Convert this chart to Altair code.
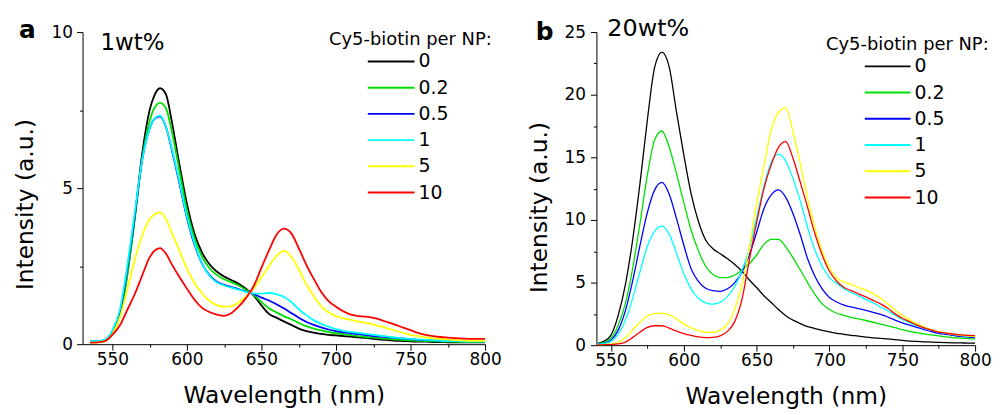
import altair as alt
import pandas as pd

FONT = "DejaVu Sans"

SERIES = ["0", "0.2", "0.5", "1", "5", "10"]
COLORS = ["#000000", "#00e000", "#0000ff", "#00ffff", "#ffff00", "#ff0000"]
TAGS = ["a", "b"]
LOADINGS = ["1wt%", "20wt%"]
LEGEND_TITLE = "Cy5-biotin per NP:"
X_TITLE = "Wavelength (nm)"
Y_TITLE = "Intensity (a.u.)"

# ---------------- panel a : 1wt% ----------------
WL_A = [535, 540, 545, 550, 555, 560, 565, 570, 575, 578, 582, 586,
        590, 595, 600, 605, 610, 615, 620, 625, 630, 635,
        640, 645, 650, 655, 660, 665, 670, 675, 680, 685,
        690, 695, 700, 705, 710, 715, 720, 725, 730, 735,
        740, 745, 750, 755, 760, 765, 770, 775, 780, 785,
        790, 795, 800]
A_0 = [0.08, 0.08, 0.12, 0.35, 0.9, 2.25, 4.05, 6.1, 7.5, 7.95, 8.2, 8.0,
       7.1, 5.75, 4.5, 3.55, 2.95, 2.57, 2.33, 2.17, 2.05, 1.93,
       1.76, 1.55, 1.24, 0.97, 0.85, 0.73, 0.62, 0.5, 0.42, 0.37,
       0.33, 0.3, 0.28, 0.26, 0.24, 0.22, 0.2, 0.17, 0.15, 0.13,
       0.11, 0.1, 0.09, 0.08, 0.08, 0.07, 0.07, 0.06, 0.06, 0.06,
       0.06, 0.06, 0.06]
A_02 = [0.08, 0.08, 0.12, 0.35, 0.9, 2.2, 4.0, 5.95, 7.15, 7.55, 7.73, 7.55,
        6.8, 5.55, 4.3, 3.4, 2.82, 2.44, 2.22, 2.08, 1.98, 1.87,
        1.73, 1.57, 1.35, 1.15, 1.02, 0.9, 0.8, 0.68, 0.58, 0.5,
        0.44, 0.39, 0.35, 0.32, 0.29, 0.26, 0.23, 0.21, 0.19, 0.17,
        0.15, 0.13, 0.12, 0.11, 0.1, 0.09, 0.09, 0.08, 0.08, 0.07,
        0.07, 0.07, 0.07]
A_05 = [0.09, 0.09, 0.13, 0.4, 1.0, 2.4, 4.1, 5.9, 6.9, 7.2, 7.3, 6.95,
        6.2, 5.15, 4.05, 3.2, 2.6, 2.22, 2.0, 1.9, 1.83, 1.76,
        1.68, 1.6, 1.49, 1.4, 1.28, 1.15, 1.0, 0.85, 0.72, 0.62,
        0.54, 0.47, 0.42, 0.38, 0.35, 0.32, 0.29, 0.26, 0.24, 0.22,
        0.2, 0.18, 0.16, 0.14, 0.13, 0.12, 0.11, 0.1, 0.1, 0.09,
        0.09, 0.09, 0.09]
A_1 = [0.1, 0.1, 0.15, 0.45, 1.1, 2.5, 4.2, 5.9, 6.9, 7.2, 7.32, 6.95,
       6.24, 5.2, 4.1, 3.25, 2.6, 2.2, 1.98, 1.88, 1.81, 1.74,
       1.67, 1.62, 1.62, 1.64, 1.6, 1.52, 1.35, 1.12, 0.93, 0.77,
       0.65, 0.56, 0.48, 0.43, 0.39, 0.36, 0.33, 0.3, 0.27, 0.24,
       0.21, 0.19, 0.17, 0.15, 0.14, 0.13, 0.11, 0.1, 0.1, 0.09,
       0.09, 0.09, 0.09]
A_5 = [0.05, 0.06, 0.1, 0.33, 0.85, 1.75, 2.7, 3.48, 4.0, 4.15, 4.22, 4.0,
       3.55, 3.0, 2.42, 1.97, 1.64, 1.39, 1.25, 1.2, 1.22, 1.35,
       1.55, 1.8, 2.15, 2.5, 2.82, 3.0, 2.8, 2.4, 1.93, 1.55,
       1.22, 1.02, 0.9, 0.83, 0.78, 0.72, 0.68, 0.63, 0.57, 0.5,
       0.43, 0.36, 0.3, 0.26, 0.22, 0.19, 0.17, 0.15, 0.13, 0.12,
       0.11, 0.11, 0.11]
A_10 = [0.05, 0.06, 0.1, 0.3, 0.6, 1.1, 1.6, 2.2, 2.78, 2.98, 3.08, 2.9,
        2.55, 2.15, 1.78, 1.43, 1.17, 1.03, 0.95, 0.91, 1.0, 1.22,
        1.5, 1.88, 2.45, 3.0, 3.5, 3.7, 3.55, 3.08, 2.55, 2.1,
        1.68, 1.38, 1.2, 1.05, 0.95, 0.9, 0.88, 0.84, 0.78, 0.7,
        0.62, 0.53, 0.45, 0.36, 0.3, 0.26, 0.23, 0.21, 0.19, 0.18,
        0.17, 0.17, 0.17]

# ---------------- panel b : 20wt% ----------------
WL_B = [541, 545, 550, 555, 560, 565, 570, 575, 580, 585,
        590, 595, 600, 605, 610, 615, 620, 625, 630, 635,
        640, 645, 650, 655, 660, 665, 670, 675, 680, 685,
        690, 695, 700, 705, 710, 715, 720, 725, 730, 735,
        740, 745, 750, 755, 760, 765, 770, 775, 780, 785,
        790, 795, 800]
B_0 = [0.15, 0.3, 0.8, 2.4, 4.9, 8.5, 13.0, 18.0, 22.2, 23.4,
       22.2, 18.6, 15.2, 12.1, 9.9, 8.4, 7.7, 7.3, 6.9, 6.45,
       5.9, 5.2, 4.6, 3.95, 3.4, 2.85, 2.35, 2.0, 1.72, 1.48,
       1.33, 1.18, 1.06, 0.95, 0.87, 0.79, 0.73, 0.65, 0.59, 0.54,
       0.5, 0.44, 0.38, 0.33, 0.3, 0.27, 0.25, 0.23, 0.21, 0.19,
       0.18, 0.17, 0.16]
B_02 = [0.12, 0.2, 0.55, 1.6, 3.4, 6.2, 9.8, 13.6, 16.4, 17.1,
        15.8, 13.7, 11.4, 9.2, 7.55, 6.3, 5.65, 5.4, 5.4, 5.6,
        6.0, 6.5, 7.2, 8.05, 8.45, 8.45, 7.85, 6.97, 6.0, 5.0,
        4.05, 3.3, 2.85, 2.55, 2.38, 2.22, 2.1, 1.97, 1.83, 1.68,
        1.55, 1.4, 1.24, 1.1, 1.0, 0.9, 0.82, 0.74, 0.67, 0.61,
        0.56, 0.52, 0.5]
B_05 = [0.1, 0.15, 0.4, 1.2, 2.8, 5.2, 8.0, 10.6, 12.4, 13.0,
        12.05, 10.1, 8.0, 6.1, 5.1, 4.55, 4.35, 4.3, 4.5, 5.0,
        5.85, 7.2, 9.0, 10.9, 12.0, 12.4, 11.8, 10.5, 8.8, 6.9,
        5.5, 4.5, 3.8, 3.45, 3.2, 3.05, 2.92, 2.78, 2.62, 2.45,
        2.25, 2.0, 1.78, 1.6, 1.42, 1.25, 1.08, 0.95, 0.86, 0.78,
        0.7, 0.65, 0.61]
B_1 = [0.08, 0.12, 0.3, 0.9, 2.0, 3.8, 5.9, 7.9, 9.1, 9.5,
       8.85, 7.35, 5.7, 4.5, 3.75, 3.38, 3.28, 3.42, 3.9, 4.7,
       6.0, 7.7, 10.2, 12.7, 14.6, 15.25, 14.7, 13.3, 11.5, 9.4,
       7.6, 6.3, 5.4, 4.9, 4.5, 4.2, 3.95, 3.65, 3.4, 3.05,
       2.75, 2.4, 2.05, 1.8, 1.55, 1.35, 1.2, 1.05, 0.95, 0.84,
       0.76, 0.72, 0.69]
B_5 = [0.02, 0.04, 0.1, 0.25, 0.62, 1.22, 1.85, 2.35, 2.52, 2.56,
       2.42, 2.1, 1.7, 1.38, 1.17, 1.03, 1.02, 1.2, 1.7, 2.9,
       4.9, 7.8, 11.3, 14.3, 17.2, 18.6, 18.95, 17.0, 14.5, 11.7,
       9.4, 7.5, 6.2, 5.35, 5.05, 4.85, 4.6, 4.4, 4.12, 3.75,
       3.3, 2.78, 2.4, 2.02, 1.72, 1.45, 1.25, 1.08, 0.97, 0.87,
       0.8, 0.74, 0.69]
B_10 = [0.02, 0.03, 0.05, 0.1, 0.25, 0.62, 1.05, 1.42, 1.55, 1.55,
        1.36, 1.12, 0.93, 0.78, 0.66, 0.6, 0.62, 0.74, 1.1, 1.9,
        3.7, 6.8, 9.8, 12.5, 14.4, 15.8, 16.25, 14.9, 13.0, 11.0,
        8.9, 7.2, 5.9, 5.1, 4.6, 4.35, 4.1, 3.85, 3.58, 3.3,
        2.95, 2.5, 2.15, 1.88, 1.6, 1.38, 1.2, 1.05, 0.97, 0.88,
        0.82, 0.78, 0.77]


def long_table(wl, columns):
    rows = []
    for s, vals in zip(SERIES, columns):
        for w, v in zip(wl, vals):
            rows.append({"wl": w, "val": v, "series": s})
    return pd.DataFrame(rows)


def make_panel(df, tag, loading, cfg):
    base = alt.Chart(df)
    xscale = alt.Scale(domain=cfg["xdom"], nice=False, zero=False)
    yscale = alt.Scale(domain=cfg["ydom"], nice=False, zero=False)
    lines = base.mark_line(interpolate="monotone", strokeWidth=cfg["sw"], clip=True).encode(
        x=alt.X("wl:Q", scale=xscale,
                axis=alt.Axis(values=cfg["xmaj"], format="d", title=X_TITLE,
                              titleY=59, titleBaseline="alphabetic",
                              tickSize=6, labelPadding=1, labelFlush=False)),
        y=alt.Y("val:Q", scale=yscale,
                axis=alt.Axis(values=cfg["ymaj"], format="d", title=Y_TITLE,
                              titleX=-45, titleY=cfg["ytitle_y"], titleAngle=270,
                              titleBaseline="bottom", tickSize=6, labelFlush=False,
                              labelPadding=cfg["ylpad"])),
        color=alt.Color("series:N", sort=SERIES,
                        scale=alt.Scale(domain=SERIES, range=COLORS),
                        legend=alt.Legend(
                            title=LEGEND_TITLE, orient="none",
                            legendX=cfg["legx"], legendY=cfg["legy"],
                            titleFont=FONT, titleFontSize=18, titleFontWeight="normal",
                            titleColor="black", titleAnchor="start", titleAlign="left",
                            titlePadding=cfg["tpad"], titleLimit=400,
                            labelFont=FONT, labelFontSize=19, labelColor="black",
                            symbolType="stroke", symbolSize=cfg["symsize"],
                            symbolStrokeWidth=2, symbolOffset=cfg["symoff"],
                            labelOffset=3, clipHeight=19, rowPadding=6.4,
                            padding=0, labelLimit=200)),
    )
    minor = base.mark_point(opacity=0, size=1).encode(
        x=alt.X("wl:Q", scale=xscale,
                axis=alt.Axis(values=cfg["xmin"], labels=False, domain=False,
                              tickSize=3, title=None, orient="bottom")),
        y=alt.Y("val:Q", scale=yscale,
                axis=alt.Axis(values=cfg["ymin"], labels=False, domain=False,
                              tickSize=3, title=None, orient="left")),
    )
    tag_text = alt.Chart(pd.DataFrame({"t": [tag]})).mark_text(
        align="left", baseline="alphabetic", font=FONT, fontSize=25,
        fontWeight="bold", color="black"
    ).encode(x=alt.value(cfg["tagx"]), y=alt.value(cfg["tagy"]), text="t:N")
    load_text = alt.Chart(pd.DataFrame({"t": [loading]})).mark_text(
        align="left", baseline="alphabetic", font=FONT, fontSize=cfg["loadfs"],
        color="black"
    ).encode(x=alt.value(cfg["loadx"]), y=alt.value(cfg["loady"]), text="t:N")
    return alt.layer(lines, minor, tag_text, load_text).resolve_axis(
        x="independent", y="independent"
    ).properties(width=cfg["w"], height=cfg["h"])


cfg_a = dict(sw=1.8, xdom=[530, 800], xmaj=[550, 600, 650, 700, 750, 800],
             xmin=[575, 625, 675, 725, 775], ydom=[0, 10], ymaj=[0, 5, 10],
             ymin=[2.5, 7.5], ytitle_y=173, ylpad=4, legx=248, legy=-0.5,
             tpad=2.5, symsize=2209, symoff=38, tagx=-64, tagy=6,
             loadx=18, loady=18, loadfs=23, w=405, h=314)
cfg_b = dict(sw=1.3, xdom=[540, 800], xmaj=[550, 600, 650, 700, 750, 800],
             xmin=[575, 625, 675, 725, 775], ydom=[0, 25], ymaj=[0, 5, 10, 15, 20, 25],
             ymin=[2.5, 7.5, 12.5, 17.5, 22.5], ytitle_y=176, ylpad=5, legx=231, legy=4,
             tpad=3, symsize=2116, symoff=38, tagx=-61, tagy=8,
             loadx=11, loady=4, loadfs=24, w=381, h=315)

panel_a = make_panel(long_table(WL_A, [A_0, A_02, A_05, A_1, A_5, A_10]), TAGS[0], LOADINGS[0], cfg_a)
panel_b = make_panel(long_table(WL_B, [B_0, B_02, B_05, B_1, B_5, B_10]), TAGS[1], LOADINGS[1], cfg_b)

chart = alt.hconcat(panel_a, panel_b, spacing=112, bounds="flush").resolve_scale(
    color="independent"
).resolve_legend(color="independent").properties(
    padding={"left": 6, "top": 8, "right": 0, "bottom": 0}
).configure_view(stroke=None).configure_axis(
    labelFont=FONT, titleFont=FONT, labelFontSize=17, titleFontSize=23.5,
    titleFontWeight="normal", labelColor="black", titleColor="black",
    domainColor="black", tickColor="black", domainWidth=1, tickWidth=1, grid=False
)

chart.save("out.html", embed_options={"renderer": "svg", "actions": False})
